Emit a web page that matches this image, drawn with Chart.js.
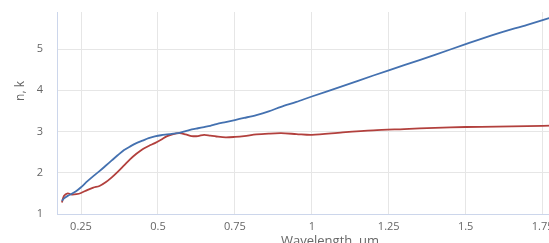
<!DOCTYPE html>
<html>
<head>
<meta charset="utf-8">
<script src="https://cdn.jsdelivr.net/npm/chart.js@4"></script>
<style>
	html, body { margin: 0; padding: 0; overflow: hidden; background: #fff; }
	canvas { display: block; }
</style>
</head>
<body>
<canvas id="chart" width="575" height="251"></canvas>
<script>
// wavelength in um
const wavelength = [0.188, 0.195, 0.207, 0.22, 0.235, 0.25, 0.27, 0.29, 0.31, 0.33, 0.35, 0.37, 0.39, 0.41, 0.43, 0.45, 0.47, 0.49, 0.51, 0.53, 0.55, 0.57, 0.59, 0.61, 0.63, 0.65, 0.67, 0.69, 0.72, 0.75, 0.78, 0.82, 0.86, 0.9, 0.95, 1.0, 1.1, 1.2, 1.3, 1.4, 1.5, 1.6, 1.7, 1.8];
// refractive index n (blue)
const nValues = [1.32, 1.38, 1.44, 1.49, 1.56, 1.65, 1.79, 1.92, 2.04, 2.17, 2.30, 2.43, 2.55, 2.64, 2.72, 2.78, 2.84, 2.88, 2.91, 2.93, 2.95, 2.97, 3.01, 3.05, 3.08, 3.11, 3.14, 3.18, 3.23, 3.28, 3.33, 3.40, 3.49, 3.60, 3.72, 3.85, 4.10, 4.36, 4.61, 4.86, 5.12, 5.37, 5.59, 5.82];
// extinction coefficient k (red)
const kValues = [1.28, 1.44, 1.50, 1.47, 1.48, 1.51, 1.58, 1.64, 1.68, 1.77, 1.89, 2.03, 2.18, 2.33, 2.46, 2.57, 2.65, 2.72, 2.80, 2.89, 2.94, 2.96, 2.93, 2.89, 2.89, 2.92, 2.90, 2.88, 2.86, 2.87, 2.89, 2.93, 2.95, 2.96, 2.94, 2.92, 2.98, 3.03, 3.06, 3.09, 3.11, 3.12, 3.13, 3.15];
const xTicks = [0.25, 0.5, 0.75, 1, 1.25, 1.5, 1.75];
const yTicks = [1, 2, 3, 4, 5];

const toPoints = (vals) => vals.map((v, i) => ({ x: wavelength[i], y: v }));

// axis titles are off-centre in the original (plot was cropped), so draw them by hand
const axisTitles = {
	id: 'axisTitles',
	afterDraw(chart) {
		const ctx = chart.ctx;
		ctx.save();
		ctx.fillStyle = '#666666';
		ctx.textAlign = 'center';

		ctx.font = '13px "Open Sans"';
		ctx.textBaseline = 'alphabetic';
		ctx.fillText('Wavelength, um', 330, 245);

		ctx.translate(21, 91);
		ctx.rotate(-Math.PI / 2);
		ctx.font = '12px "Open Sans"';
		ctx.textBaseline = 'middle';
		ctx.fillText('n, k', 0, 0);
		ctx.restore();
	},
};

new Chart(document.getElementById('chart'), {
	type: 'line',
	data: {
		datasets: [
			{
				label: 'n',
				data: toPoints(nValues),
				borderColor: '#4471b0',
				borderWidth: 1.8,
				pointRadius: 0,
				tension: 0.3,
			},
			{
				label: 'k',
				data: toPoints(kValues),
				borderColor: '#b2403d',
				borderWidth: 1.8,
				pointRadius: 0,
				tension: 0.3,
			},
		],
	},
	options: {
		responsive: false,
		animation: false,
		layout: { padding: { top: 12, left: 0, right: 17, bottom: 0 } },
		plugins: {
			legend: { display: false },
			tooltip: { enabled: false },
		},
		scales: {
			x: {
				type: 'linear',
				min: 0.172,
				max: 1.8,
				afterBuildTicks: (axis) => { axis.ticks = xTicks.map((v) => ({ value: v })); },
				afterFit: (axis) => { axis.height = 37; },
				ticks: {
					color: '#666666',
					font: { family: 'Open Sans', size: 11 },
					padding: 6,
					maxRotation: 0,
					callback: (v) => String(v),
				},
				grid: { color: '#e6e6e6', drawTicks: false },
				border: { color: '#ccd6eb' },
			},
			y: {
				min: 1,
				max: 5.9,
				afterBuildTicks: (axis) => { axis.ticks = yTicks.map((v) => ({ value: v })); },
				afterFit: (axis) => {
					axis.width = 57;
					axis.paddingTop = 0;
					axis.paddingBottom = 0;
				},
				ticks: {
					color: '#666666',
					font: { family: 'Open Sans', size: 11 },
					padding: 14,
				},
				grid: { color: '#e6e6e6', drawTicks: false },
				border: { color: '#ccd6eb' },
			},
		},
	},
	plugins: [axisTitles],
});
</script>
</body>
</html>
